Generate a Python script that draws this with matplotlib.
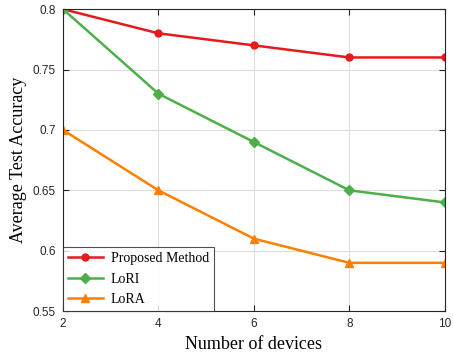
import matplotlib
matplotlib.use("Agg")
import matplotlib.pyplot as plt
from matplotlib.ticker import FuncFormatter

# data
devices = [2, 4, 6, 8, 10]
proposed = [0.80, 0.78, 0.77, 0.76, 0.76]
lori = [0.80, 0.73, 0.69, 0.65, 0.64]
lora = [0.70, 0.65, 0.61, 0.59, 0.59]
yticks = [0.55, 0.6, 0.65, 0.7, 0.75, 0.8]

fig = plt.figure(figsize=(4.53, 3.52), dpi=100)
ax = fig.add_axes([0.139, 0.116, 0.843, 0.858])

ax.plot(devices, proposed, color="#E41A1C", marker="o", markersize=5, lw=1.8, label="Proposed Method")
ax.plot(devices, lori, color="#4DAF4A", marker="D", markersize=5, lw=1.8, label="LoRI")
ax.plot(devices, lora, color="#FF7F00", marker="^", markersize=6, lw=1.8, label="LoRA")

ax.set_xlim(2, 10)
ax.set_ylim(0.55, 0.8)
ax.set_xticks(devices)
ax.set_yticks(yticks)
ax.yaxis.set_major_formatter(FuncFormatter(lambda v, p: ("%g" % round(v, 2))))
ax.grid(True, color="#dddddd", lw=0.8)
ax.set_axisbelow(True)
for s in ax.spines.values():
    s.set_color("#262626")
    s.set_linewidth(0.8)
ax.tick_params(direction="in", top=True, right=True, length=4, width=0.8,
               labelsize=8.5, colors="#262626", pad=5)
for lab in ax.get_xticklabels() + ax.get_yticklabels():
    lab.set_family("Liberation Sans")

ax.set_xlabel("Number of devices", family="Liberation Serif", fontsize=13)
ax.set_ylabel("Average Test Accuracy", family="Liberation Serif", fontsize=13)

leg = ax.legend(loc="lower left", prop={"family": "Liberation Serif", "size": 10},
                frameon=True, fancybox=False, borderaxespad=0, handlelength=2.5,
                labelspacing=0.55, borderpad=0.35, handletextpad=0.6)
leg.get_frame().set_edgecolor("#262626")
leg.get_frame().set_linewidth(0.8)

fig.savefig("out.png", dpi=100)
